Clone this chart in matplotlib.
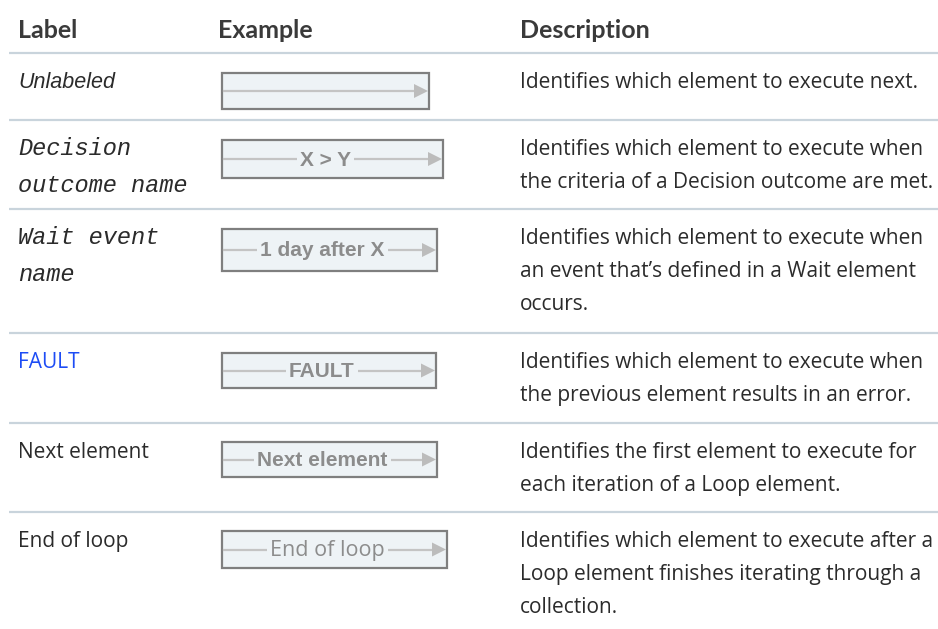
import matplotlib.pyplot as plt
from matplotlib.patches import Rectangle, Polygon

headers = ['Label', 'Example', 'Description']
labels = ['Unlabeled', 'Decision\noutcome name', 'Wait event\nname',
          'FAULT', 'Next element', 'End of loop']
label_kind = ['italic', 'mono', 'mono', 'link', 'plain', 'plain']
examples = ['', 'X > Y', '1 day after X', 'FAULT', 'Next element', 'End of loop']
descriptions = [
    'Identifies which element to execute next.',
    'Identifies which element to execute when\nthe criteria of a Decision outcome are met.',
    'Identifies which element to execute when\nan event that\u2019s defined in a Wait element\noccurs.',
    'Identifies which element to execute when\nthe previous element results in an error.',
    'Identifies the first element to execute for\neach iteration of a Loop element.',
    'Identifies which element to execute after a\nLoop element finishes iterating through a\ncollection.',
]

W, H = 938, 629
fig = plt.figure(figsize=(W / 100, H / 100), dpi=100)
ax = fig.add_axes([0, 0, 1, 1])
ax.set_xlim(0, W)
ax.set_ylim(H, 0)
ax.axis('off')

# layout (pixels)
col_x = [18, 218, 520]
row_tops = [53, 120, 209, 333, 423, 512]
box_right = [429, 443, 437, 436, 437, 447]
box_h = [36, 38, 42, 35, 35, 37]
box_off = [20, 20, 20, 20, 19, 19]
sep_color = '#c9d4dc'
txt_color = '#2b2b2b'

for x, h in zip(col_x, headers):
    ax.text(x, 31, h, fontsize=18, fontweight='bold', family='Lato',
            color='#3a3a3a', va='center', ha='left')

for y in row_tops:
    ax.plot([9, W], [y, y], color=sep_color, lw=1.6, solid_capstyle='butt')


def put_lines(x, base, step, text, **kw):
    for k, line in enumerate(text.split('\n')):
        ax.text(x, base + k * step, line, va='baseline', ha='left', **kw)


for i in range(len(labels)):
    top = row_tops[i]
    base = top + 35
    kind = label_kind[i]
    if kind == 'mono':
        put_lines(col_x[0], top + 35, 37, labels[i], fontsize=17,
                  family='Liberation Mono', style='italic', color=txt_color)
    elif kind == 'italic':
        put_lines(col_x[0], base, 34, labels[i], fontsize=15.5, family='Liberation Sans',
                  style='italic', color=txt_color)
    elif kind == 'link':
        put_lines(col_x[0], base, 34, labels[i], fontsize=15, family='Open Sans',
                  color='#1d4cf5')
    else:
        put_lines(col_x[0], base, 34, labels[i], fontsize=15, family='Open Sans',
                  color=txt_color)

    put_lines(col_x[2], base, 33, descriptions[i], fontsize=15, family='Open Sans',
              color=txt_color)

    # example box
    x0 = 222
    x1 = box_right[i]
    y0 = top + box_off[i]
    y1 = y0 + box_h[i]
    ym = (y0 + y1) / 2
    ax.add_patch(Rectangle((x0, y0), x1 - x0, y1 - y0, facecolor='#eef3f6',
                           edgecolor='#7f7f7f', lw=1.6, zorder=2))
    ax.plot([x0 + 2, x1 - 14], [ym, ym], color='#c4c4c4', lw=1.6, zorder=3)
    ax.add_patch(Polygon([[x1 - 15, ym - 7], [x1 - 15, ym + 7], [x1 - 1, ym]],
                         closed=True, facecolor='#bcbcbc', edgecolor='none', zorder=3))
    if examples[i]:
        cx = (x0 + x1 - 14) / 2
        if examples[i] == 'End of loop':
            fam, fw, fs = 'Open Sans', 'normal', 15.5
        else:
            fam, fw, fs = 'Liberation Sans', 'bold', 15
        ax.text(cx, ym + 1, examples[i], fontsize=fs, family=fam, fontweight=fw,
                color='#8c8c8c', ha='center', va='center', zorder=4,
                bbox=dict(boxstyle='square,pad=0.15', facecolor='#eef3f6',
                          edgecolor='none'))

fig.savefig('out.png', dpi=100)
